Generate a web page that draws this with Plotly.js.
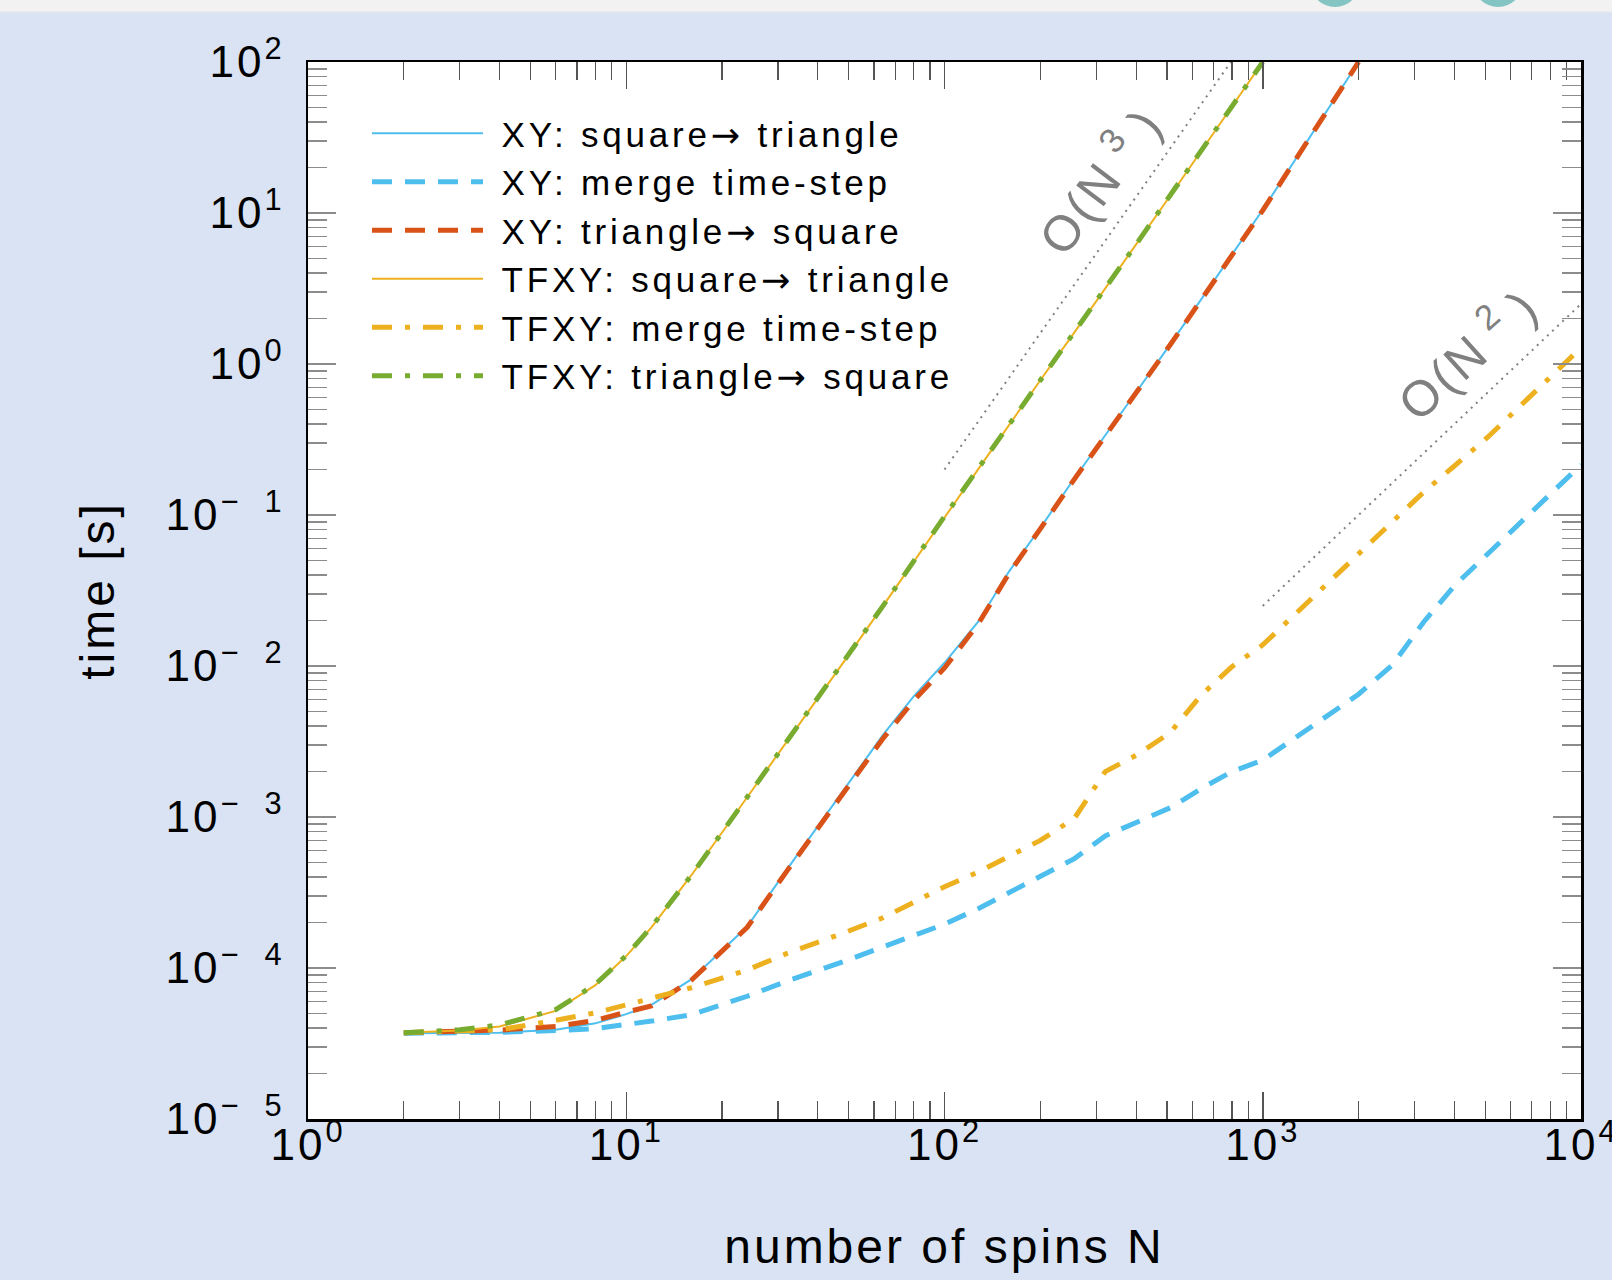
<!DOCTYPE html>
<html>
<head>
<meta charset="utf-8">
<script src="https://cdn.plot.ly/plotly-3.0.1.min.js"></script>
<style>
  html, body { margin: 0; padding: 0; background: #dae3f3; }
  #chart { width: 1612px; height: 1280px; }
  text { letter-spacing: 3px; }
  text.legendtext { letter-spacing: 3.8px; }
</style>
</head>
<body>
<div id="chart"></div>
<script>
// ---- data ----
const nSteepXY = [2, 3, 4, 6, 8, 10, 12, 16, 20, 24, 32, 48, 64, 80, 100, 128, 160, 200, 256, 400, 512, 1000, 2000];
const xySquareToTriangle = [3.7e-5, 3.71e-5, 3.73e-5, 3.9e-5, 4.3e-5, 4.95e-5, 5.7e-5, 8.4e-5, 1.32e-4, 1.88e-4, 4.5e-4, 1.5e-3, 3.48e-3, 6.3e-3, 0.0105, 0.0198, 0.0427, 0.082, 0.175, 0.65, 1.35, 10.5, 100];
const xyTriangleToSquare = [3.73e-5, 3.8e-5, 3.88e-5, 4.1e-5, 4.5e-5, 5.1e-5, 5.6e-5, 8.3e-5, 1.3e-4, 1.86e-4, 4.4e-4, 1.45e-3, 3.3e-3, 5.9e-3, 0.0097, 0.0192, 0.0415, 0.081, 0.173, 0.645, 1.34, 10.4, 100];

const nSteepTF = [2, 3, 4, 6, 8, 10, 12, 16, 20, 24, 32, 48, 64, 100, 128, 200, 256, 400, 512, 1000];
const tfxySquareToTriangle = [3.73e-5, 3.85e-5, 4.1e-5, 5.2e-5, 7.7e-5, 1.2e-4, 1.86e-4, 4.1e-4, 7.9e-4, 1.35e-3, 3.2e-3, 0.0105, 0.0249, 0.097, 0.203, 0.78, 1.62, 6.2, 13, 100];
const tfxyTriangleToSquare = [3.73e-5, 3.9e-5, 4.2e-5, 5.3e-5, 7.8e-5, 1.21e-4, 1.87e-4, 4.1e-4, 7.9e-4, 1.35e-3, 3.2e-3, 0.0105, 0.0249, 0.098, 0.204, 0.79, 1.63, 6.2, 13.1, 100];

const nMerge = [2, 3, 4, 6, 8, 12, 16, 24, 32, 48, 64, 100, 128, 200, 256, 320, 400, 512, 640, 800, 1000, 1280, 1600, 2000, 2560, 3200, 4000, 5120, 6400, 8000, 10000];
const xyMerge = [3.7e-5, 3.72e-5, 3.75e-5, 3.85e-5, 3.97e-5, 4.45e-5, 4.9e-5, 6.5e-5, 8.2e-5, 1.1e-4, 1.38e-4, 1.95e-4, 2.48e-4, 4.05e-4, 5.3e-4, 7.5e-4, 9.2e-4, 1.15e-3, 1.54e-3, 2.0e-3, 2.38e-3, 3.4e-3, 4.7e-3, 6.5e-3, 0.0102, 0.0195, 0.034, 0.0555, 0.0875, 0.138, 0.215];
const tfxyMerge = [3.73e-5, 3.8e-5, 3.9e-5, 4.5e-5, 5.05e-5, 6.3e-5, 7.4e-5, 9.7e-5, 1.25e-4, 1.7e-4, 2.15e-4, 3.45e-4, 4.33e-4, 7.0e-4, 9.8e-4, 2.0e-3, 2.56e-3, 3.62e-3, 6.4e-3, 9.9e-3, 0.0138, 0.0226, 0.0354, 0.0556, 0.0923, 0.1416, 0.211, 0.331, 0.521, 0.822, 1.28];

// reference slopes O(N^3), O(N^2)
const guideN3x = [100, 1000];
const guideN3y = [0.2, 200];
const guideN2x = [1000, 10000];
const guideN2y = [0.025, 2.5];

const ARROW = '<span style="font-family:DejaVu Sans">\u2192</span>';
const seriesNames = [
  '\u00a0XY: square' + ARROW + ' triangle',
  '\u00a0XY: merge time-step',
  '\u00a0XY: triangle' + ARROW + ' square',
  '\u00a0TFXY: square' + ARROW + ' triangle',
  '\u00a0TFXY: merge time-step',
  '\u00a0TFXY: triangle' + ARROW + ' square'
];

const xTickVals = [1, 10, 100, 1000, 10000];
const xTickText = ['10<sup>0</sup>', '10<sup>1</sup>', '10<sup>2</sup>', '10<sup>3</sup>', '10<sup>4</sup>'];
const yTickVals = [1e-5, 1e-4, 1e-3, 1e-2, 1e-1, 1, 10, 100];
const yTickText = ['10<sup>\u2212\u00a0 5</sup>', '10<sup>\u2212\u00a0 4</sup>', '10<sup>\u2212\u00a0 3</sup>', '10<sup>\u2212\u00a0 2</sup>', '10<sup>\u2212\u00a0 1</sup>', '10<sup>0</sup>', '10<sup>1</sup>', '10<sup>2</sup>'];

// minor tick positions (axis decoration)
function minorTicks(d0, d1) {
  const out = [];
  for (let d = d0; d < d1; d++) for (let k = 2; k <= 9; k++) out.push(k * Math.pow(10, d));
  return out;
}

const C_BLUE = '#4dbeee', C_RED = '#d95319', C_YEL = '#edb120', C_GRN = '#77ac30';
const DASH = '20px,13px';
const DASHDOT = '20px,13px,5px,13px';

const traces = [
  {x: guideN3x, y: guideN3y, mode: 'lines', showlegend: false, hoverinfo: 'skip',
   line: {color: '#808080', width: 2, dash: '2px,5px'}},
  {x: guideN2x, y: guideN2y, mode: 'lines', showlegend: false, hoverinfo: 'skip',
   line: {color: '#808080', width: 2, dash: '2px,5px'}},
  {x: nSteepXY, y: xySquareToTriangle, name: seriesNames[0], mode: 'lines',
   line: {color: C_BLUE, width: 2}},
  {x: nMerge, y: xyMerge, name: seriesNames[1], mode: 'lines',
   line: {color: C_BLUE, width: 5, dash: DASH}},
  {x: nSteepXY, y: xyTriangleToSquare, name: seriesNames[2], mode: 'lines',
   line: {color: C_RED, width: 5, dash: DASH}},
  {x: nSteepTF, y: tfxySquareToTriangle, name: seriesNames[3], mode: 'lines',
   line: {color: C_YEL, width: 2}},
  {x: nMerge, y: tfxyMerge, name: seriesNames[4], mode: 'lines',
   line: {color: C_YEL, width: 5, dash: DASHDOT}},
  {x: nSteepTF, y: tfxyTriangleToSquare, name: seriesNames[5], mode: 'lines',
   line: {color: C_GRN, width: 5, dash: DASHDOT}}
];

const FONT = "'Liberation Sans', Arial, sans-serif";
const L = 308, T = 62, W = 1273, H = 1057;
const px = v => (v - L) / W;           // page pixel -> paper x
const py = v => 1 - (v - T) / H;       // page pixel -> paper y

const layout = {
  width: 1612, height: 1280,
  margin: {l: L, r: 1612 - L - W, t: T, b: 1280 - T - H, pad: 0},
  paper_bgcolor: '#dae3f3',
  plot_bgcolor: '#ffffff',
  font: {family: FONT, color: '#000'},
  showlegend: true,
  legend: {
    x: px(367), y: py(104), xanchor: 'left', yanchor: 'top',
    bgcolor: 'rgba(0,0,0,0)', borderwidth: 0,
    font: {family: FONT, size: 35, color: '#000'},
    itemwidth: 111, tracegroupgap: 0
  },
  xaxis: {
    type: 'log', range: [0, 4], autorange: false,
    tickmode: 'array', tickvals: xTickVals, ticktext: xTickText,
    ticks: 'inside', ticklen: 27, tickwidth: 1.5, tickcolor: '#555',
    showline: true, linecolor: '#000', linewidth: 2.5, mirror: 'ticks',
    showgrid: false, zeroline: false,
    tickfont: {family: FONT, size: 44, color: '#000'},
    ticklabelstandoff: -14, ticklabeloverflow: 'allow',
    minor: {tickmode: 'array', tickvals: minorTicks(0, 4), ticks: 'inside', ticklen: 18,
            tickwidth: 1.2, tickcolor: '#555', showgrid: false},
    title: {text: 'number of spins N', font: {family: FONT, size: 48, color: '#000'}, standoff: 61}
  },
  yaxis: {
    type: 'log', range: [-5, 2], autorange: false,
    tickmode: 'array', tickvals: yTickVals, ticktext: yTickText,
    ticks: 'inside', ticklen: 28, tickwidth: 1.5, tickcolor: '#8c8c8c',
    showline: true, linecolor: '#000', linewidth: 2.5, mirror: 'ticks',
    showgrid: false, zeroline: false,
    tickfont: {family: FONT, size: 44, color: '#000'},
    ticklabelstandoff: 12, ticklabeloverflow: 'allow',
    minor: {tickmode: 'array', tickvals: minorTicks(-5, 2), ticks: 'inside', ticklen: 19,
            tickwidth: 1.5, tickcolor: '#8c8c8c', showgrid: false},
    title: {text: 'time [s]', font: {family: FONT, size: 48, color: '#000'}, standoff: 36}
  },
  annotations: [
    {xref: 'paper', yref: 'paper', x: px(1098), y: py(179), xanchor: 'center', yanchor: 'middle',
     text: 'O(N<sup>\u00a03\u00a0</sup>)', showarrow: false, textangle: -53,
     font: {family: FONT, size: 50, color: '#808080'}},
    {xref: 'paper', yref: 'paper', x: px(1466), y: py(352), xanchor: 'center', yanchor: 'middle',
     text: 'O(N<sup>\u00a02\u00a0</sup>)', showarrow: false, textangle: -42,
     font: {family: FONT, size: 50, color: '#808080'}}
  ],
  shapes: [
    // light grey strip at top of page
    {type: 'rect', xref: 'paper', yref: 'paper', x0: px(-10), x1: px(1630), y0: py(12), y1: py(-10),
     fillcolor: '#f2f2f2', line: {width: 0}, layer: 'below'},
    {type: 'line', xref: 'paper', yref: 'paper', x0: px(-10), x1: px(1630), y0: py(12), y1: py(12),
     line: {color: '#e3e6ea', width: 1}, layer: 'below'},
    // teal decorative circles peeking in at top
    {type: 'circle', xref: 'paper', yref: 'paper', x0: px(1335 - 25), x1: px(1335 + 25), y0: py(7), y1: py(-43),
     fillcolor: '#84c4c2', line: {width: 0}, layer: 'below'},
    {type: 'circle', xref: 'paper', yref: 'paper', x0: px(1498 - 25), x1: px(1498 + 25), y0: py(7), y1: py(-43),
     fillcolor: '#84c4c2', line: {width: 0}, layer: 'below'}
  ]
};

Plotly.newPlot('chart', traces, layout, {staticPlot: true, displayModeBar: false});
</script>
</body>
</html>
